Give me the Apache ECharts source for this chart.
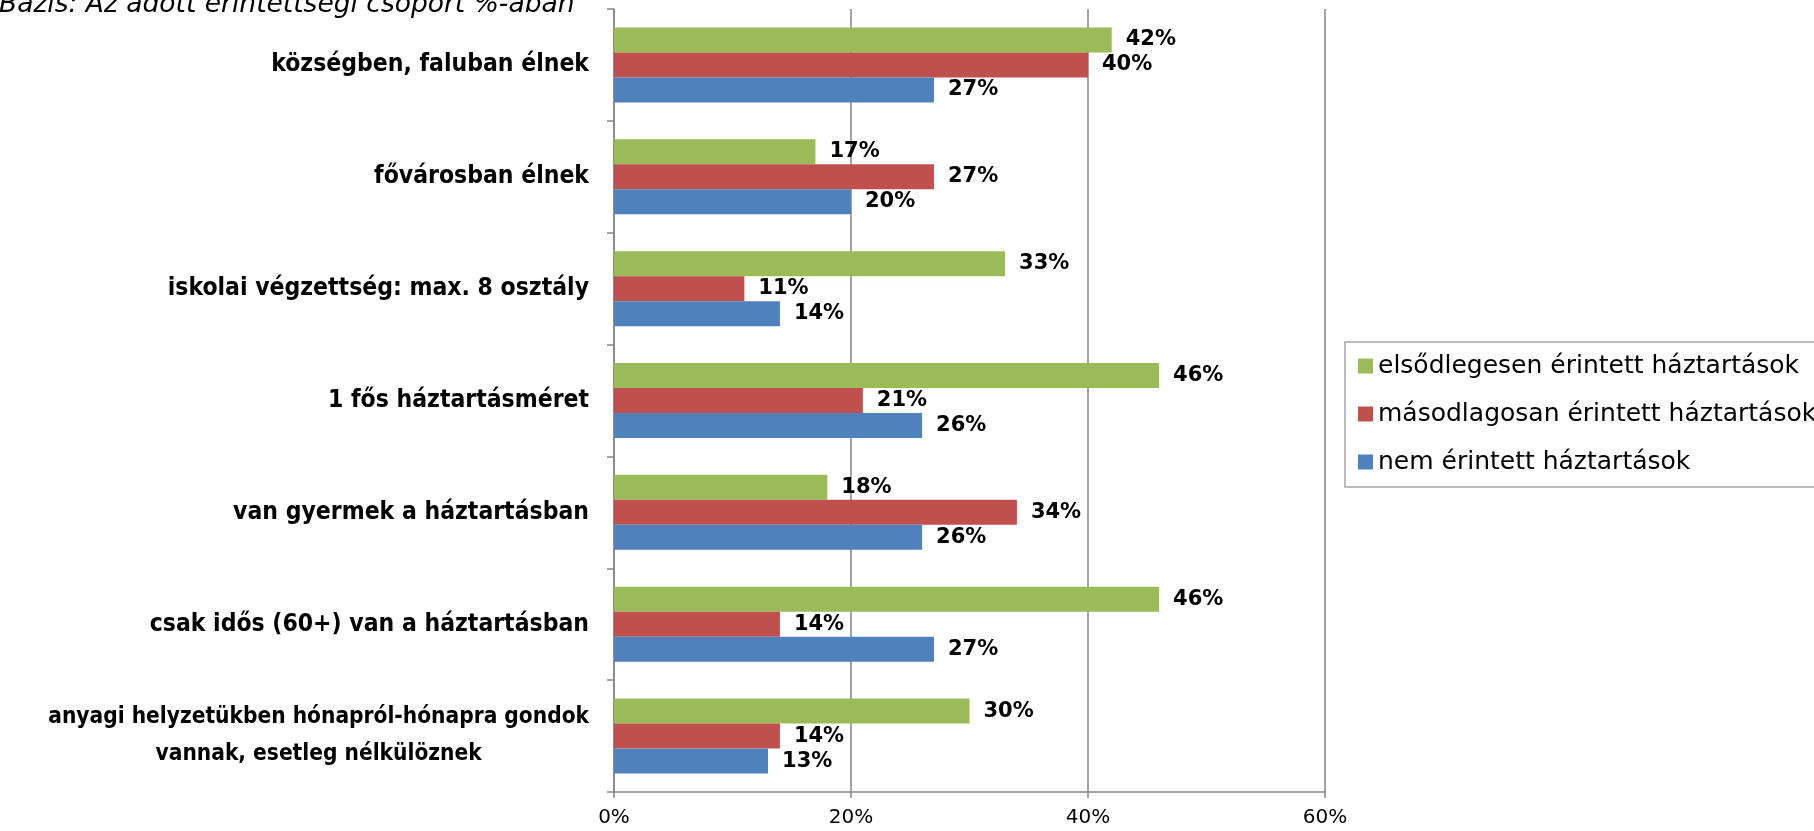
<!DOCTYPE html>
<html>
<head>
<meta charset="utf-8">
<script src="https://cdn.jsdelivr.net/npm/echarts@6/dist/echarts.min.js"></script>
<style>
  html, body { margin: 0; padding: 0; background: #fff; }
  #chart { width: 1814px; height: 831px; }
</style>
</head>
<body>
<div id="chart"></div>
<script>
  // kategóriák fentről lefelé
  const categories = [
    'községben, faluban élnek',
    'fővárosban élnek',
    'iskolai végzettség: max. 8 osztály',
    '1 fős háztartásméret',
    'van gyermek a háztartásban',
    'csak idős (60+) van a háztartásban',
    'anyagi helyzetükben hónapról-hónapra gondok\nvannak, esetleg nélkülöznek'
  ]
  const seriesNames = [
    'elsődlegesen érintett háztartások',
    'másodlagosan érintett háztartások',
    'nem érintett háztartások'
  ]
  const primaryValues = [42, 17, 33, 46, 18, 46, 30]
  const secondaryValues = [40, 27, 11, 21, 34, 14, 14]
  const notAffectedValues = [27, 20, 14, 26, 26, 27, 13]
  const xTicks = [0, 20, 40, 60]
  const colors = ['#9BBB59', '#C0504D', '#4F81BD']

  const chart = echarts.init(document.getElementById('chart'))

  const font = "'DejaVu Sans', 'Liberation Sans', sans-serif"
  const condFont = "'DejaVu Sans Condensed', 'DejaVu Sans', sans-serif"
  const gray = '#868686'

  function barSeries(name, data, color) {
    return {
      name: name,
      type: 'bar',
      data: data,
      barWidth: 25,
      barGap: '0%',
      itemStyle: { color: color },
      label: {
        show: true,
        position: 'right',
        distance: 14,
        color: '#000',
        fontFamily: font,
        fontSize: 21,
        fontWeight: 'bold',
        formatter: '{c}%'
      }
    }
  }

  const catLabelStyle = {
    fontFamily: condFont,
    fontSize: 24.5,
    fontWeight: 'bold',
    color: '#000'
  }

  chart.setOption({
    animation: false,
    title: {
      text: 'Bázis: Az adott érintettségi csoport %-ában',
      left: -6,
      top: -13,
      textStyle: {
        fontFamily: font,
        fontStyle: 'italic',
        fontWeight: 'normal',
        fontSize: 26.5,
        color: '#000'
      }
    },
    legend: {
      orient: 'vertical',
      left: 1345,
      top: 342,
      padding: [9, 60, 10, 13],
      borderColor: '#a6a6a6',
      borderWidth: 1.5,
      itemWidth: 15,
      itemHeight: 15,
      itemGap: 18,
      icon: 'rect',
      data: seriesNames,
      textStyle: {
        fontFamily: font,
        fontSize: 25,
        lineHeight: 30,
        color: '#000'
      }
    },
    grid: {
      left: 614,
      right: 489,
      top: 9,
      bottom: 39,
      outerBoundsMode: 'none'
    },
    xAxis: {
      type: 'value',
      min: xTicks[0],
      max: xTicks[xTicks.length - 1],
      interval: xTicks[1] - xTicks[0],
      axisLine: { show: true, lineStyle: { color: gray, width: 1.5 } },
      axisTick: { show: true, length: 6, lineStyle: { color: gray, width: 1.5 } },
      splitLine: { show: true, lineStyle: { color: gray, width: 1.5 } },
      axisLabel: {
        formatter: '{value}%',
        color: '#000',
        fontFamily: font,
        fontSize: 20,
        margin: 16
      }
    },
    yAxis: {
      type: 'category',
      inverse: true,
      data: categories,
      axisLine: { show: true, lineStyle: { color: gray, width: 1.5 } },
      axisTick: { show: true, length: 7, lineStyle: { color: gray, width: 1.5 } },
      axisLabel: Object.assign({}, catLabelStyle, {
        lineHeight: 37,
        margin: 25,
        align: 'right',
        // két soros címke: kicsit kisebb betű, sorok középre igazítva
        formatter: function (value) {
          if (value.indexOf('\n') < 0) return value
          return value.split('\n').map(function (l) { return '{c|' + l + '}' }).join('\n')
        },
        rich: {
          c: Object.assign({}, catLabelStyle, { fontSize: 22.5, align: 'center', lineHeight: 37 })
        }
      })
    },
    series: [
      barSeries(seriesNames[0], primaryValues, colors[0]),
      barSeries(seriesNames[1], secondaryValues, colors[1]),
      barSeries(seriesNames[2], notAffectedValues, colors[2])
    ]
  })
</script>
</body>
</html>
